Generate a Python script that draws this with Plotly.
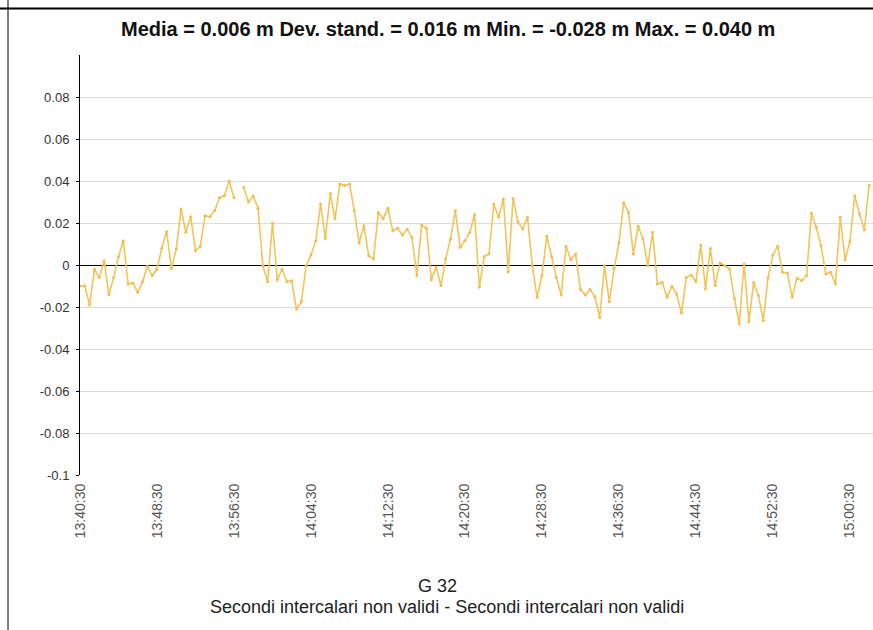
import pandas as pd
import plotly.graph_objects as go

# Series sampled every 30 seconds starting at 13:40:30 (None = missing sample)
start_time = "2024-01-01 13:40:30"
sample_step = "30s"
values = [
    -0.010, -0.010, -0.019, -0.002, -0.006, 0.002, -0.014, -0.006, 0.004, 0.0116,
    -0.009, -0.0086, -0.013, -0.008, -0.0006, -0.005, -0.002, 0.008, 0.016, -0.0016,
    0.0076, 0.0267, 0.0156, 0.023, 0.0068, 0.0089, 0.0235, 0.023, 0.026, 0.032,
    0.033, 0.040, 0.032, None, 0.037, 0.030, 0.033, 0.027, -0.0003, -0.008,
    0.020, -0.007, -0.002, -0.008, -0.0075, -0.021, -0.0175, -0.0003, 0.0048, 0.0116,
    0.029, 0.0127, 0.034, 0.022, 0.0386, 0.0378, 0.0386, 0.026, 0.0105, 0.0187,
    0.0044, 0.0029, 0.025, 0.022, 0.027, 0.0163, 0.0175, 0.0143, 0.017, 0.013,
    -0.005, 0.019, 0.0175, -0.007, -0.001, -0.0098, 0.0029, 0.0124, 0.026, 0.0084,
    0.0116, 0.0156, 0.024, -0.0106, 0.0041, 0.0052, 0.029, 0.0227, 0.0314, -0.0032,
    0.0317, 0.0206, 0.0171, 0.0227, -0.0003, -0.0154, -0.005, 0.0137, 0.0041, -0.0059,
    -0.0143, 0.0089, 0.0025, 0.0052, -0.0117, -0.0143, -0.0117, -0.015, -0.025, -0.0003,
    -0.0175, -0.0016, 0.0105, 0.0295, 0.025, 0.0052, 0.0184, 0.0124, -0.0003, 0.0156,
    -0.009, -0.0083, -0.0154, -0.0102, -0.0138, -0.0229, -0.0059, -0.0048, -0.008, 0.0095,
    -0.0114, 0.0079, -0.0098, 0.001, -0.0003, -0.0019, -0.0159, -0.028, 0.0005, -0.027,
    -0.0083, -0.0146, -0.0265, -0.0059, 0.0048, 0.0089, -0.0035, -0.0038, -0.0154, -0.0063,
    -0.0075, -0.005, 0.0248, 0.018, 0.0092, -0.0043, -0.0035, -0.009, 0.0227, 0.0025,
    0.0111, 0.033, 0.0243, 0.0168, 0.038,
]
times = pd.date_range(start_time, periods=len(values), freq=sample_step)

y_ticks = [-0.1, -0.08, -0.06, -0.04, -0.02, 0, 0.02, 0.04, 0.06, 0.08]
y_tick_labels = ["-0.1", "-0.08", "-0.06", "-0.04", "-0.02", "0", "0.02", "0.04", "0.06", "0.08"]

title_text = "Media = 0.006 m Dev. stand. = 0.016 m Min. = -0.028 m Max. = 0.040 m"
caption_1 = "G 32"
caption_2 = "Secondi intercalari non validi - Secondi intercalari non validi"

fig = go.Figure()
fig.add_trace(go.Scatter(
    x=times, y=values, mode="lines+markers",
    line=dict(color="#F2C45A", width=1.6),
    marker=dict(color="#F0BE50", size=3),
    connectgaps=False, showlegend=False, hoverinfo="skip",
))

# plot area: 80..873 px horizontally, 55..475 px vertically
L, R, T, B = 80, 0, 55, 155
W, H = 873, 630
pw, ph = W - L - R, H - T - B

def px_x(px):
    return (px - L) / pw

def px_y(py):
    return (H - B - py) / ph

fig.update_layout(
    width=W, height=H,
    margin=dict(l=L, r=R, t=T, b=B, pad=0),
    paper_bgcolor="white", plot_bgcolor="white",
    font=dict(family="Liberation Sans, Arial, sans-serif", color="#333333"),
    xaxis=dict(
        type="date",
        range=["2024-01-01 13:40:30", "2024-01-01 15:02:54"],
        tick0="2024-01-01 13:40:30", dtick=8 * 60 * 1000,
        tickformat="%H:%M:%S", tickangle=-90,
        tickfont=dict(size=14, color="#555555"),
        ticklabelstandoff=5,
        showgrid=False, showline=False, zeroline=False,
        ticks="", ticklen=0,
    ),
    yaxis=dict(
        range=[-0.1, 0.1],
        tickvals=y_ticks, ticktext=y_tick_labels,
        tickfont=dict(size=13, color="#333333"),
        ticklabelstandoff=4,
        showgrid=True, gridcolor="#DCDCDC", gridwidth=1,
        zeroline=True, zerolinecolor="#000000", zerolinewidth=1,
        showline=True, linecolor="#000000", linewidth=1,
        ticks="outside", ticklen=3, tickcolor="#000000",
    ),
)

# statistics header
fig.add_annotation(
    text="<b>" + title_text + "</b>", xref="paper", yref="paper",
    x=px_x(448), y=px_y(29), showarrow=False, xanchor="center", yanchor="middle",
    font=dict(family="Liberation Sans, Arial", size=20, color="#111111"),
)
# captions below the time axis
fig.add_annotation(
    text=caption_1, xref="paper", yref="paper",
    x=px_x(437), y=px_y(586), showarrow=False, xanchor="center", yanchor="middle",
    font=dict(size=18, color="#222222"),
)
fig.add_annotation(
    text=caption_2, xref="paper", yref="paper",
    x=px_x(447), y=px_y(607), showarrow=False, xanchor="center", yanchor="middle",
    font=dict(size=18, color="#222222"),
)

# window frame: heavy top rule and thin left rule
fig.add_shape(type="line", xref="paper", yref="paper",
              x0=px_x(0), x1=px_x(W), y0=px_y(8.5), y1=px_y(8.5),
              line=dict(color="#000000", width=2))
fig.add_shape(type="line", xref="paper", yref="paper",
              x0=px_x(8), x1=px_x(8), y0=px_y(0), y1=px_y(H),
              line=dict(color="#000000", width=1))

fig.write_html("out.html")
